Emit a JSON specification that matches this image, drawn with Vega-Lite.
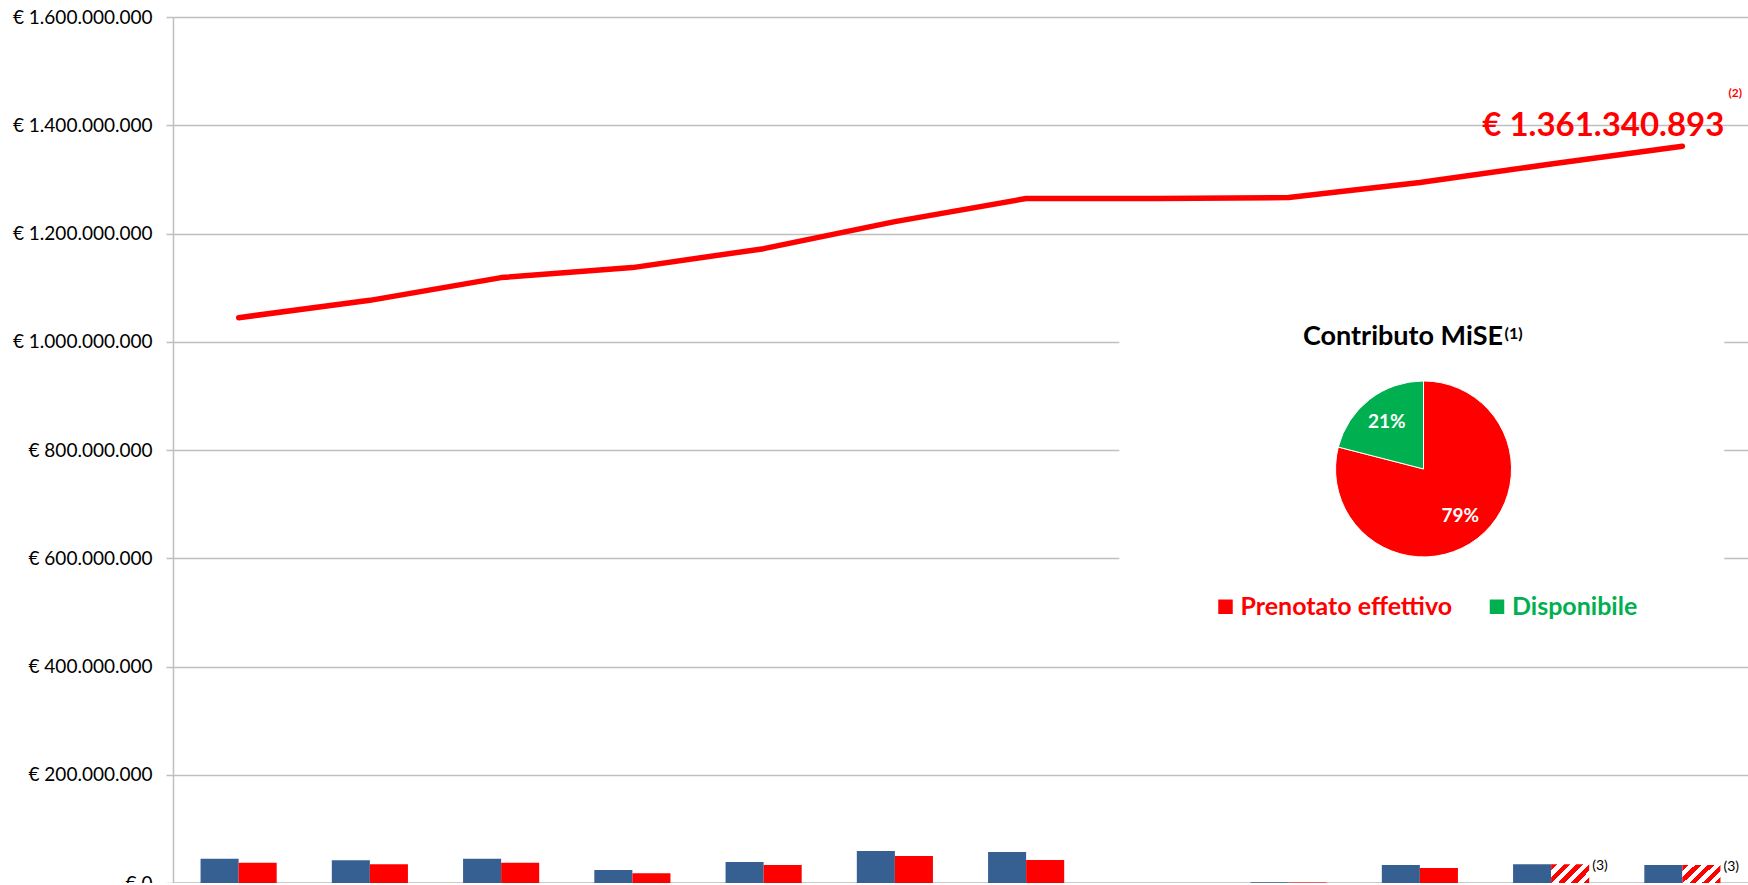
{
  "$schema": "https://vega.github.io/schema/vega-lite/v6.json",
  "width": 1575,
  "height": 866,
  "autosize": {"type": "none"},
  "padding": {"left": 173, "top": 17, "right": 0, "bottom": 0},
  "background": "white",
  "config": {
    "view": {"stroke": null},
    "font": "Lato",
    "locale": {"number": {"decimal": ",", "thousands": ".", "grouping": [3], "currency": ["€ ", ""]}}
  },
  "datasets": {
    "barre": [
      {"periodo": "2008", "serie": "Contributo ammissibile", "importo": 45000000, "stato": "effettivo"},
      {"periodo": "2008", "serie": "Contributo prenotato", "importo": 37600000, "stato": "effettivo"},
      {"periodo": "2009", "serie": "Contributo ammissibile", "importo": 42000000, "stato": "effettivo"},
      {"periodo": "2009", "serie": "Contributo prenotato", "importo": 34500000, "stato": "effettivo"},
      {"periodo": "2010", "serie": "Contributo ammissibile", "importo": 45000000, "stato": "effettivo"},
      {"periodo": "2010", "serie": "Contributo prenotato", "importo": 37600000, "stato": "effettivo"},
      {"periodo": "2011", "serie": "Contributo ammissibile", "importo": 24000000, "stato": "effettivo"},
      {"periodo": "2011", "serie": "Contributo prenotato", "importo": 17900000, "stato": "effettivo"},
      {"periodo": "2012", "serie": "Contributo ammissibile", "importo": 38800000, "stato": "effettivo"},
      {"periodo": "2012", "serie": "Contributo prenotato", "importo": 33300000, "stato": "effettivo"},
      {"periodo": "2013", "serie": "Contributo ammissibile", "importo": 59200000, "stato": "effettivo"},
      {"periodo": "2013", "serie": "Contributo prenotato", "importo": 49800000, "stato": "effettivo"},
      {"periodo": "2014", "serie": "Contributo ammissibile", "importo": 57300000, "stato": "effettivo"},
      {"periodo": "2014", "serie": "Contributo prenotato", "importo": 42500000, "stato": "effettivo"},
      {"periodo": "2015", "serie": "Contributo ammissibile", "importo": 0, "stato": "effettivo"},
      {"periodo": "2015", "serie": "Contributo prenotato", "importo": 0, "stato": "effettivo"},
      {"periodo": "2016", "serie": "Contributo ammissibile", "importo": 1500000, "stato": "effettivo"},
      {"periodo": "2016", "serie": "Contributo prenotato", "importo": 1000000, "stato": "effettivo"},
      {"periodo": "2017", "serie": "Contributo ammissibile", "importo": 33300000, "stato": "effettivo"},
      {"periodo": "2017", "serie": "Contributo prenotato", "importo": 27700000, "stato": "effettivo"},
      {"periodo": "2018", "serie": "Contributo ammissibile", "importo": 34600000, "stato": "effettivo"},
      {"periodo": "2018", "serie": "Contributo prenotato", "importo": 34600000, "stato": "stimato", "nota": "(3)"},
      {"periodo": "2019", "serie": "Contributo ammissibile", "importo": 33300000, "stato": "effettivo"},
      {"periodo": "2019", "serie": "Contributo prenotato", "importo": 33300000, "stato": "stimato", "nota": "(3)"}
    ],
    "linea": [
      {"periodo": "2008", "cumulato": 1044500000},
      {"periodo": "2009", "cumulato": 1076500000},
      {"periodo": "2010", "cumulato": 1118500000},
      {"periodo": "2011", "cumulato": 1137000000},
      {"periodo": "2012", "cumulato": 1172000000},
      {"periodo": "2013", "cumulato": 1222000000},
      {"periodo": "2014", "cumulato": 1264600000},
      {"periodo": "2015", "cumulato": 1264600000},
      {"periodo": "2016", "cumulato": 1266500000},
      {"periodo": "2017", "cumulato": 1294200000},
      {"periodo": "2018", "cumulato": 1328300000},
      {"periodo": "2019", "cumulato": 1361340893}
    ],
    "torta": [
      {"voce": "Prenotato effettivo", "quota": 0.79},
      {"voce": "Disponibile", "quota": 0.21}
    ]
  },
  "layer": [
    {
      "data": {"name": "barre"},
      "mark": {"type": "bar"},
      "encoding": {
        "x": {
          "field": "periodo", "type": "nominal",
          "scale": {"domain": ["2008","2009","2010","2011","2012","2013","2014","2015","2016","2017","2018","2019"], "paddingInner": 0.42, "paddingOuter": 0.21},
          "axis": {"title": null, "labels": false, "ticks": false, "grid": false, "domainColor": "#BFBFBF", "domainWidth": 2.5}
        },
        "xOffset": {"field": "serie", "type": "nominal", "scale": {"domain": ["Contributo ammissibile", "Contributo prenotato"], "paddingInner": 0, "paddingOuter": 0}},
        "y": {
          "field": "importo", "type": "quantitative",
          "scale": {"domain": [0, 1600000000], "nice": false},
          "axis": {
            "title": null,
            "values": [0, 200000000, 400000000, 600000000, 800000000, 1000000000, 1200000000, 1400000000, 1600000000],
            "format": "$,.0f",
            "labelFont": "Lato", "labelFontSize": 19, "labelColor": "#000000", "labelPadding": 14,
            "tickSize": 7, "tickColor": "#BFBFBF", "tickWidth": 1.5,
            "domainColor": "#BFBFBF", "domainWidth": 1.5,
            "grid": true, "gridColor": "#BFBFBF", "gridWidth": 1.5
          }
        },
        "color": {
          "condition": {
            "test": "datum.stato === 'stimato'",
            "value": {
              "gradient": "linear", "x1": 0, "y1": 0, "x2": 1.2, "y2": 0.585,
              "stops": [
                {"offset": 0, "color": "#FF0000"}, {"offset": 0.1125, "color": "#FF0000"},
                {"offset": 0.1125, "color": "#FFFFFF"}, {"offset": 0.225, "color": "#FFFFFF"},
                {"offset": 0.225, "color": "#FF0000"}, {"offset": 0.3375, "color": "#FF0000"},
                {"offset": 0.3375, "color": "#FFFFFF"}, {"offset": 0.45, "color": "#FFFFFF"},
                {"offset": 0.45, "color": "#FF0000"}, {"offset": 0.5625, "color": "#FF0000"},
                {"offset": 0.5625, "color": "#FFFFFF"}, {"offset": 0.675, "color": "#FFFFFF"},
                {"offset": 0.675, "color": "#FF0000"}, {"offset": 0.7875, "color": "#FF0000"},
                {"offset": 0.7875, "color": "#FFFFFF"}, {"offset": 0.9, "color": "#FFFFFF"},
                {"offset": 0.9, "color": "#FF0000"}, {"offset": 1, "color": "#FF0000"}
              ]
            }
          },
          "field": "serie", "type": "nominal",
          "scale": {"domain": ["Contributo ammissibile", "Contributo prenotato"], "range": ["#376092", "#FF0000"]},
          "legend": null
        }
      }
    },
    {
      "data": {"name": "barre"},
      "transform": [{"filter": "datum.nota"}],
      "mark": {"type": "text", "align": "left", "baseline": "top", "dx": 22, "dy": -5, "fontSize": 14, "color": "#000000"},
      "encoding": {
        "x": {"field": "periodo", "type": "nominal"},
        "xOffset": {"field": "serie", "type": "nominal"},
        "y": {"field": "importo", "type": "quantitative"},
        "text": {"field": "nota"}
      }
    },
    {
      "data": {"name": "linea"},
      "mark": {"type": "line", "color": "#FF0000", "strokeWidth": 5.5, "strokeCap": "round", "strokeJoin": "round"},
      "encoding": {
        "x": {"field": "periodo", "type": "nominal"},
        "y": {"field": "cumulato", "type": "quantitative"}
      }
    },
    {
      "data": {"name": "linea"},
      "transform": [{"filter": "datum.periodo === '2019'"}],
      "mark": {"type": "text", "align": "right", "baseline": "alphabetic", "dx": 42, "dy": -10, "fontSize": 33, "fontWeight": "bold", "color": "#FF0000"},
      "encoding": {
        "x": {"field": "periodo", "type": "nominal"},
        "y": {"field": "cumulato", "type": "quantitative"},
        "text": {"field": "cumulato", "type": "quantitative", "format": "$,.0f"}
      }
    },
    {
      "data": {"name": "linea"},
      "transform": [{"filter": "datum.periodo === '2019'"}],
      "mark": {"type": "text", "text": "(2)", "align": "left", "baseline": "alphabetic", "dx": 46, "dy": -49, "fontSize": 12, "fontWeight": "bold", "color": "#FF0000"},
      "encoding": {
        "x": {"field": "periodo", "type": "nominal"},
        "y": {"field": "cumulato", "type": "quantitative"}
      }
    },
    {
      "data": {"values": [{}]},
      "mark": {"type": "rect", "color": "#FFFFFF"},
      "encoding": {
        "x": {"datum": "2015", "bandPosition": 0},
        "x2": {"datum": "2019", "bandPosition": 1.05},
        "y": {"datum": 1100000000},
        "y2": {"datum": 450000000}
      }
    },
    {
      "data": {"name": "torta"},
      "mark": {"type": "arc", "radius": 88, "stroke": "#FFFFFF", "strokeWidth": 1},
      "encoding": {
        "x": {"datum": "2017", "bandPosition": 0.548},
        "y": {"datum": 765000000},
        "theta": {"field": "quota", "type": "quantitative", "stack": true},
        "order": {"field": "quota", "sort": "descending"},
        "color": {
          "field": "voce", "type": "nominal",
          "scale": {"domain": ["Prenotato effettivo", "Disponibile"], "range": ["#FF0000", "#00B050"]},
          "legend": {
            "orient": "none", "legendX": 1040, "legendY": 577, "direction": "horizontal",
            "title": null, "symbolType": "square", "symbolSize": 210, "symbolStrokeWidth": 0,
            "labelFont": "Lato", "labelFontSize": 25, "labelFontWeight": "bold", "labelOffset": 2.5,
            "labelLimit": 0,
            "labelColor": {"expr": "datum.value === 'Disponibile' ? '#00B050' : '#FF0000'"},
            "columnPadding": 31.5, "padding": 0
          }
        }
      }
    },
    {
      "data": {"name": "torta"},
      "mark": {"type": "text", "radius": 60, "fontSize": 19, "fontWeight": "bold", "color": "#FFFFFF"},
      "encoding": {
        "x": {"datum": "2017", "bandPosition": 0.548},
        "y": {"datum": 765000000},
        "theta": {"field": "quota", "type": "quantitative", "stack": true},
        "order": {"field": "quota", "sort": "descending"},
        "text": {"field": "quota", "type": "quantitative", "format": ".0%"}
      }
    },
    {
      "data": {"values": [{}]},
      "mark": {"type": "text", "text": "Contributo MiSE", "align": "right", "baseline": "alphabetic", "dx": 79.5, "dy": -124, "fontSize": 27, "fontWeight": "bold", "color": "#000000"},
      "encoding": {
        "x": {"datum": "2017", "bandPosition": 0.548},
        "y": {"datum": 765000000}
      }
    },
    {
      "data": {"values": [{}]},
      "mark": {"type": "text", "text": "(1)", "align": "left", "baseline": "alphabetic", "dx": 81, "dy": -129.5, "fontSize": 16, "fontWeight": "bold", "color": "#000000"},
      "encoding": {
        "x": {"datum": "2017", "bandPosition": 0.548},
        "y": {"datum": 765000000}
      }
    }
  ],
  "resolve": {"scale": {"color": "independent"}}
}
